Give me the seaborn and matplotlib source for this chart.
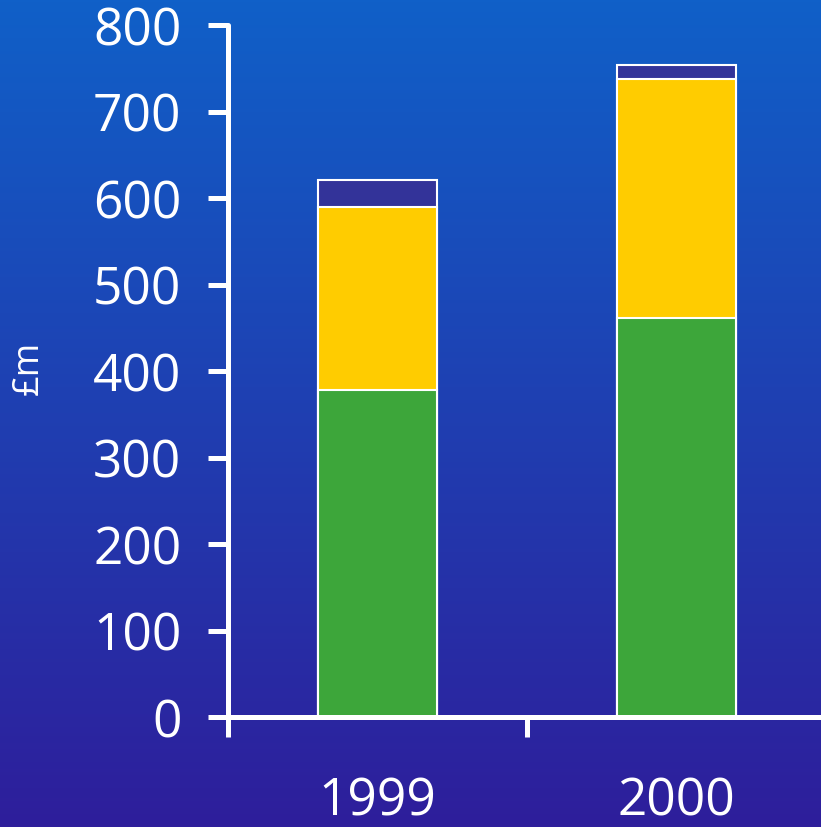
import numpy as np
import pandas as pd
import seaborn as sns
import matplotlib.pyplot as plt

# data
years = ['1999', '2000']
green_vals = [378, 461]
yellow_vals = [212, 277]
navy_vals = [31, 16]
y_ticks = [0, 100, 200, 300, 400, 500, 600, 700, 800]

df = pd.DataFrame({'year': years, 'green': green_vals,
                   'yellow': yellow_vals, 'navy': navy_vals})
df['g_y'] = df['green'] + df['yellow']
df['total'] = df['g_y'] + df['navy']

sns.set_style('white')
plt.rcParams['font.family'] = ['Open Sans', 'DejaVu Sans']

fig = plt.figure(figsize=(8.21, 8.28), dpi=100)

# gradient background
bg = fig.add_axes([0, 0, 1, 1], zorder=-1)
top = np.array([16, 96, 200]) / 255
bottom = np.array([46, 30, 155]) / 255
t = np.linspace(0, 1, 256)[:, None]
grad = top[None, :] * (1 - t) + bottom[None, :] * t
bg.imshow(grad[:, None, :], aspect='auto', extent=[0, 1, 0, 1])
bg.axis('off')

ax = fig.add_axes([228 / 821, 110 / 828, 598 / 821, 692 / 828])
ax.set_facecolor('none')

# stacked bars drawn as cumulative totals, largest first
sns.barplot(data=df, x='year', y='total', color='#333399', width=0.4,
            edgecolor='white', linewidth=1.5, saturation=1, ax=ax)
sns.barplot(data=df, x='year', y='g_y', color='#ffcc00', width=0.4,
            edgecolor='white', linewidth=1.5, saturation=1, ax=ax)
sns.barplot(data=df, x='year', y='green', color='#3da63a', width=0.4,
            edgecolor='white', linewidth=1.5, saturation=1, ax=ax)

ax.set_xlim(-0.5, 1.5)
ax.set_ylim(0, 800)
ax.set_yticks(y_ticks)
ax.set_xticks([0, 1], years)
ax.set_xticks([-0.5, 0.5, 1.5], minor=True)

for side in ['top', 'right']:
    ax.spines[side].set_visible(False)
for side in ['left', 'bottom']:
    ax.spines[side].set_color('white')
    ax.spines[side].set_linewidth(3.6)
    ax.spines[side].set_capstyle('round')

ax.tick_params(axis='y', which='major', colors='white', labelcolor='white',
               labelsize=37, length=14.5, width=3.6, pad=19, left=True)
ax.tick_params(axis='x', which='major', length=0, labelcolor='white',
               labelsize=37, pad=42)
ax.tick_params(axis='x', which='minor', colors='white', length=14.5,
               width=3.6, bottom=True)

ax.set_xlabel('')
ax.set_ylabel('£m', color='white', fontsize=26)
ax.yaxis.set_label_coords(-0.303, 0.506)

fig.savefig('out.png', dpi=100)
